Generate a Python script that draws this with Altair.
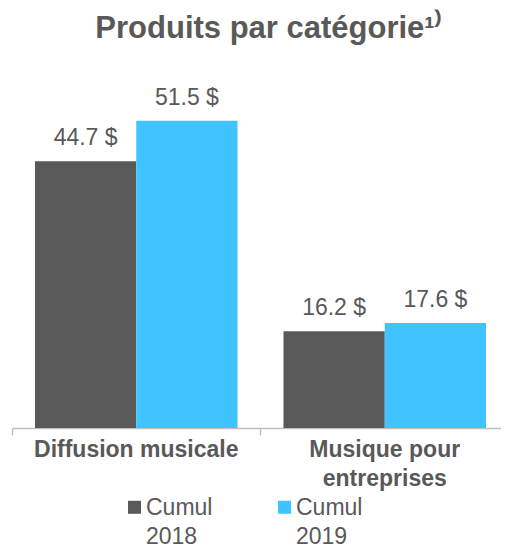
import altair as alt
import pandas as pd

categories = ["Diffusion musicale", "Musique pour entreprises"]
series = ["Cumul 2018", "Cumul 2019"]
values_2018 = [44.7, 16.2]
values_2019 = [51.5, 17.6]
colors = ["#595959", "#40C4FF"]

rows = []
for c, v18, v19 in zip(categories, values_2018, values_2019):
    rows.append({"cat": c, "serie": series[0], "value": v18})
    rows.append({"cat": c, "serie": series[1], "value": v19})
df = pd.DataFrame(rows)

FONT = "Liberation Sans"
GRAY = "#595959"

x = alt.X(
    "cat:N",
    sort=categories,
    title=None,
    scale=alt.Scale(paddingInner=0, paddingOuter=0, range=[0, 497]),
    axis=alt.Axis(
        labelAngle=0,
        labelFont=FONT,
        labelFontSize=23,
        labelFontWeight="bold",
        labelColor=GRAY,
        labelLineHeight=29,
        labelPadding=3,
        labelLimit=0,
        labelExpr="datum.label == 'Musique pour entreprises' ? ['Musique pour', 'entreprises'] : datum.label",
        domainColor="#BFBFBF",
        domainWidth=1.5,
        tickColor="#BFBFBF",
        tickWidth=1.5,
        tickSize=7,
        bandPosition=0,
    ),
)
xo = alt.XOffset("serie:N", sort=series, scale=alt.Scale(paddingInner=0, paddingOuter=0.227))
y = alt.Y("value:Q", scale=alt.Scale(domain=[0, 60]), axis=None)

bars = alt.Chart(df).mark_bar().encode(
    x=x,
    xOffset=xo,
    y=y,
    color=alt.Color(
        "serie:N",
        sort=series,
        scale=alt.Scale(domain=series, range=colors),
        legend=alt.Legend(
            title=None,
            orient="none",
            legendX=111,
            legendY=433,
            direction="horizontal",
            columns=2,
            symbolType="M-1,-2.15L1,-2.15L1,-0.15L-1,-0.15Z",
            symbolSize=169,
            symbolStrokeWidth=0,
            labelFont=FONT,
            labelFontSize=23,
            labelColor=GRAY,
            labelBaseline="alphabetic",
            labelOffset=0,
            labelExpr="['\u2002' + split(datum.label, ' ')[0], split(datum.label, ' ')[1]]",
            columnPadding=60,
            padding=0,
        ),
    ),
)

labels = alt.Chart(df).transform_calculate(
    txt="format(datum.value, '.1f') + ' $'"
).mark_text(
    font=FONT, fontSize=23, color=GRAY, baseline="alphabetic", dy=-16
).encode(
    x=x,
    xOffset=xo,
    y=y,
    text="txt:N",
)

chart = alt.layer(bars, labels).properties(
    width=489,
    height=358,
    autosize=alt.AutoSizeParams(type="none"),
    padding={"left": 4, "right": 0, "top": 62, "bottom": 120},
    title=alt.Title(
        "Produits par catégorie¹⁾",
        font=FONT,
        fontSize=31,
        fontWeight="bold",
        color=GRAY,
        anchor="middle",
        baseline="alphabetic",
        offset=1,
        dx=12,
    ),
).configure(style={"guide-label": {"lineHeight": 29}}).configure_view(stroke=None)

chart.save("out.html", embed_options={"renderer": "svg", "actions": False})
